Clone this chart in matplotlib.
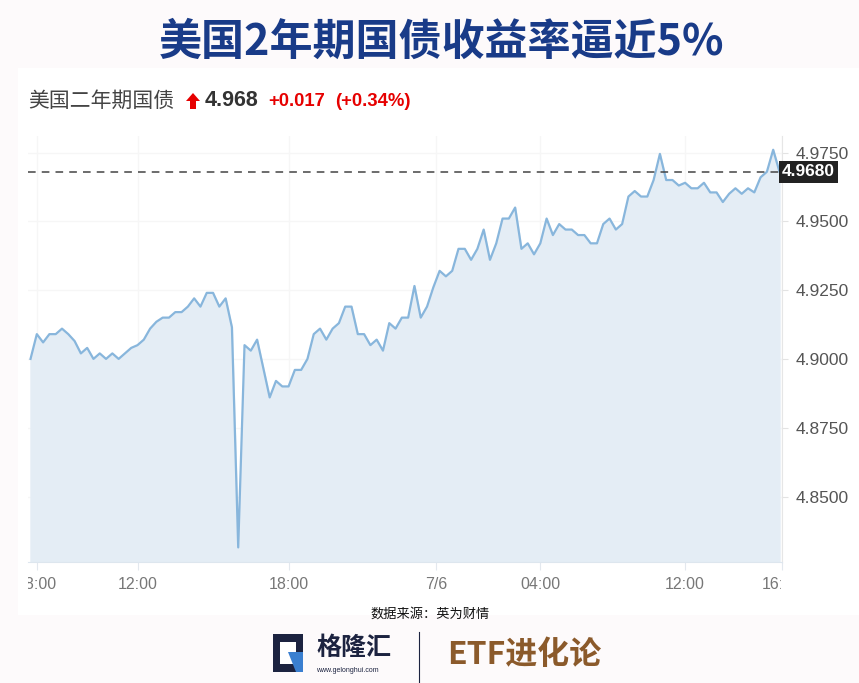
import matplotlib
matplotlib.use("Agg")
import matplotlib.pyplot as plt
from matplotlib.patches import Rectangle, Polygon
from matplotlib.transforms import Bbox, TransformedBbox

yields = [4.900, 4.909, 4.906, 4.909, 4.909, 4.911, 4.909, 4.9065, 4.902, 4.904,
          4.900, 4.902, 4.900, 4.902, 4.900, 4.902, 4.904, 4.905, 4.907, 4.911,
          4.9135, 4.915, 4.915, 4.917, 4.917, 4.919, 4.922, 4.919, 4.924, 4.924,
          4.919, 4.922, 4.9115, 4.8315, 4.905, 4.903, 4.907, 4.8965, 4.886, 4.892,
          4.890, 4.890, 4.896, 4.896, 4.900, 4.909, 4.911, 4.907, 4.911, 4.913,
          4.919, 4.919, 4.909, 4.909, 4.905, 4.907, 4.903, 4.913, 4.911, 4.915,
          4.915, 4.9265, 4.915, 4.919, 4.926, 4.932, 4.930, 4.932, 4.940, 4.940,
          4.936, 4.940, 4.947, 4.936, 4.942, 4.951, 4.951, 4.955, 4.940, 4.942,
          4.938, 4.942, 4.951, 4.945, 4.949, 4.947, 4.947, 4.945, 4.945, 4.942,
          4.942, 4.949, 4.951, 4.947, 4.949, 4.959, 4.961, 4.959, 4.959, 4.965,
          4.9745, 4.965, 4.965, 4.963, 4.964, 4.962, 4.962, 4.964, 4.9605, 4.9605,
          4.957, 4.960, 4.962, 4.960, 4.962, 4.9605, 4.966, 4.968, 4.976, 4.968]
tick_pos = [1, 17, 41, 64.5, 81, 104, 119.4]
tick_labels = ["08:00", "12:00", "18:00", "7/6", "04:00", "12:00", "16:00"]
y_ticks = [4.85, 4.875, 4.90, 4.925, 4.95, 4.975]
last_price = 4.968

W, H = 859, 683
CJK = ["Noto Sans CJK SC", "DejaVu Sans"]
LAT = ["Liberation Sans", "DejaVu Sans"]


def px(x, y):
    return x / W, 1 - y / H


fig = plt.figure(figsize=(W / 100, H / 100), dpi=100, facecolor="#fdfafb")
fig.add_artist(Rectangle(px(18, 615), (W - 18) / W, (615 - 68) / H,
                         transform=fig.transFigure, facecolor="white", edgecolor="none", zorder=0))

ax = fig.add_axes([28 / W, 1 - 562 / H, (782 - 28) / W, (562 - 136) / H])
ax.set_facecolor("white")
x = list(range(len(yields)))
ax.fill_between(x, yields, 4.80, color="#e4edf5", zorder=1)
ax.plot(x, yields, color="#88b6dc", lw=1.6, zorder=3)
ax.axhline(last_price, color="#444444", lw=1.1, dashes=(5, 4), zorder=4)

ax.set_xlim(-0.4, 119.3)
ax.set_ylim(4.8262, 4.981)
ax.yaxis.tick_right()
ax.set_yticks(y_ticks)
ax.set_yticklabels([f"{v:.4f}" for v in y_ticks], family=LAT, fontsize=12.5, color="#555555")
ax.set_xticks(tick_pos)
ax.set_xticklabels(tick_labels, family=LAT, fontsize=11.5, color="#777777")
ax.tick_params(axis="x", length=6, color="#e3e8ee", pad=5)
ax.tick_params(axis="y", length=4, color="#e3e3e3", pad=6)
ax.grid(True, color="#f6f6f6", lw=1)
ax.set_axisbelow(True)
for s in ["top", "left"]:
    ax.spines[s].set_visible(False)
ax.spines["bottom"].set_color("#dde6ee")
ax.spines["right"].set_color("#e6e6e6")

clip = TransformedBbox(Bbox.from_extents(28 / W, 0, 781 / W, 1), fig.transFigure)
for lab in ax.get_xticklabels():
    lab.set_clip_on(True)
    lab.set_clip_box(clip)

ax.text(1.0, last_price, "4.9680", transform=ax.get_yaxis_transform(),
        ha="left", va="center", fontsize=12.5, family=LAT, fontweight="bold", color="white",
        bbox=dict(boxstyle="square,pad=0.2", facecolor="#222222", edgecolor="none"), zorder=6)

# title
fig.text(*px(442, 42), "美国2年期国债收益率逼近5%", ha="center", va="center",
         fontsize=31, fontweight="bold", family=CJK, color="#193b88")

# header line
fig.text(*px(28, 101), "美国二年期国债", ha="left", va="center", fontsize=15, family=CJK, color="#444444")
fig.add_artist(Polygon([px(186, 101), px(193, 93), px(200, 101)], closed=True,
                       transform=fig.transFigure, facecolor="#e60000", edgecolor="none"))
fig.add_artist(Rectangle(px(190, 109), 6 / W, 8 / H, transform=fig.transFigure,
                         facecolor="#e60000", edgecolor="none"))
fig.text(*px(205, 101), "4.968", ha="left", va="center", fontsize=15.5, family=LAT,
         fontweight="bold", color="#333333")
fig.text(*px(268, 101), "+0.017", ha="left", va="center", fontsize=13.3, family=LAT,
         fontweight="bold", color="#e60000")
fig.text(*px(335, 101), "(+0.34%)", ha="left", va="center", fontsize=13.3, family=LAT,
         fontweight="bold", color="#e60000")

# source and logos
fig.text(*px(430, 614), "数据来源：英为财情", ha="center", va="center", fontsize=9.5,
         family=CJK, color="#111111")
fig.add_artist(Rectangle(px(273, 672), 30 / W, 38 / H, transform=fig.transFigure,
                         facecolor="#1c2340", edgecolor="none"))
fig.add_artist(Rectangle(px(280, 664), 16 / W, 22 / H, transform=fig.transFigure,
                         facecolor="white", edgecolor="none"))
fig.add_artist(Polygon([px(288, 652), px(303, 652), px(303, 672), px(296, 672)], closed=True,
                       transform=fig.transFigure, facecolor="#3a7fd0", edgecolor="none"))
fig.text(*px(316, 648), "格隆汇", ha="left", va="center", fontsize=18, fontweight="bold",
         family=CJK, color="#1c2340")
fig.text(*px(316, 670), "www.gelonghui.com", ha="left", va="center", fontsize=5,
         family=LAT, color="#1c2340")
fig.add_artist(plt.Line2D([419 / W, 419 / W], [1 - 632 / H, 1 - 683 / H],
                          transform=fig.transFigure, color="#1c2340", lw=0.8))
fig.text(*px(447, 655), "ETF进化论", ha="left", va="center", fontsize=23, fontweight="bold",
         family=CJK, color="#8b5a2b")

fig.savefig("out.png", dpi=100, facecolor=fig.get_facecolor())
